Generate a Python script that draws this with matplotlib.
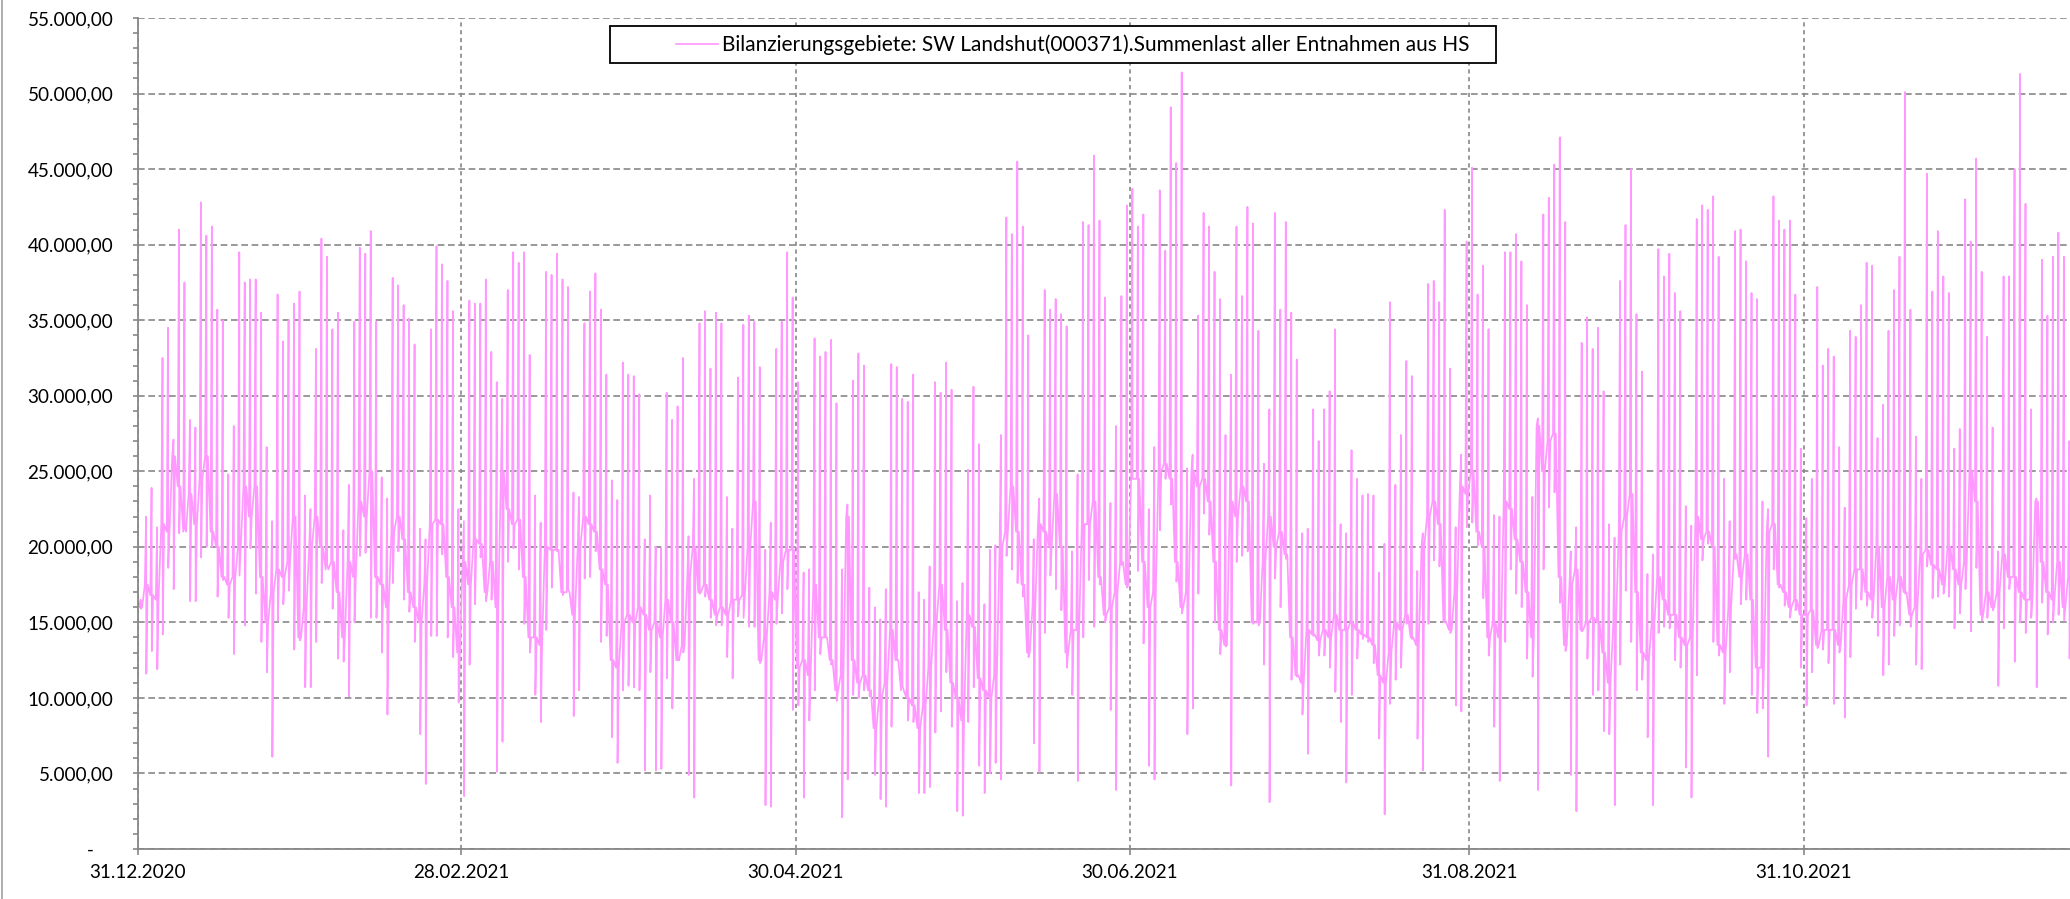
import numpy as np
import matplotlib
matplotlib.use("Agg")
import matplotlib.pyplot as plt
import matplotlib.dates as mdates
from matplotlib.ticker import MultipleLocator, FuncFormatter
from matplotlib.lines import Line2D
from matplotlib.patches import Rectangle

plt.rcParams["font.family"] = ["Lato", "DejaVu Sans"]

legend_label = "Bilanzierungsgebiete: SW Landshut(000371).Summenlast aller Entnahmen aus HS"
start_date = "2020-12-31"
tick_dates = ["2020-12-31", "2021-02-28", "2021-04-30", "2021-06-30", "2021-08-31", "2021-10-31"]

# Tageswerte in Tausend, ab 31.12.2020 (ein Wert je Tag)
tages_max = [
    16.5,
    22.0, 23.9, 21.3, 32.5, 34.5, 27.1, 41.0, 37.5, 28.4, 27.9,
    42.8, 40.6, 41.2, 35.7, 35.0, 24.8, 28.0, 39.5, 37.5, 37.7,
    37.7, 35.5, 26.6, 21.7, 36.7, 33.6, 35.0, 36.1, 36.9, 23.4,
    22.5, 33.1, 40.4, 39.2, 34.4, 35.5, 21.1, 24.1, 34.9, 39.8,
    39.4, 40.9, 34.9, 24.6, 23.2, 37.8, 37.3, 36.0, 35.1, 33.4,
    21.2, 20.5, 34.4, 39.9, 38.7, 37.6, 35.6, 22.5, 21.7, 36.3,
    36.1, 36.1, 37.7, 32.9, 30.9, 29.8, 37.0, 39.5, 38.8, 39.5,
    32.7, 23.4, 21.6, 38.2, 38.0, 39.4, 37.7, 37.2, 23.6, 23.3,
    34.8, 36.9, 38.1, 35.7, 31.4, 24.4, 23.1, 32.2,
    31.4, 31.3, 30.1, 20.5, 23.4, 20.0, 19.9, 30.2, 28.4, 29.3,
    32.5, 20.7, 24.5, 34.8, 35.6, 31.8, 35.5, 34.8, 23.3, 21.2,
    31.2, 34.7, 35.3, 34.9, 31.9, 19.8, 21.6, 33.1, 34.9, 39.5,
    36.5, 30.9, 18.3, 18.5, 33.8, 32.6, 32.9, 33.7, 29.5, 18.5,
    22.8, 31.0, 32.8, 32.0, 17.3, 16.0, 15.2, 17.2, 32.1, 31.9,
    29.8, 29.6, 31.4, 17.0, 16.5, 18.7, 30.9, 30.2, 32.2, 30.4,
    16.4, 17.6, 25.1, 30.6, 26.8, 16.2, 19.8, 20.1, 27.4, 41.8,
    40.7, 45.5, 41.2, 34.0, 20.5, 23.2, 37.0, 35.7, 36.4, 35.4,
    34.6, 19.7, 24.8, 41.5, 41.3, 45.9, 41.6, 36.5,
    22.9, 28.0, 36.6, 42.6, 43.7, 41.2, 42.0, 22.5, 26.6, 43.6,
    39.6, 49.1, 45.4, 51.4, 25.2, 26.1, 35.3, 42.1, 41.2, 38.2,
    36.4, 27.4, 31.4, 41.2, 36.6, 42.5, 41.4, 34.3, 25.5, 29.1,
    42.1, 35.7, 41.5, 35.5, 32.4, 20.9, 21.2, 29.1, 27.0, 29.1,
    30.3, 34.4, 21.5, 20.9, 26.4, 24.5, 23.4, 23.5, 23.4, 18.3,
    20.2, 36.2, 24.1, 27.4, 32.3, 31.3, 18.4, 20.9, 37.4, 37.6,
    36.2, 42.3, 31.8, 21.3, 26.1, 40.2, 45.1, 36.7, 38.6, 34.4,
    22.1, 22.0, 39.5, 39.5, 40.7, 38.9, 36.0, 23.3, 28.5, 42.0,
    43.1, 45.3, 47.1, 41.5, 19.7, 21.3, 33.5, 35.2,
    33.1, 34.5, 30.3, 21.5, 20.6, 37.6, 41.3, 45.0, 35.4, 31.6,
    18.2, 19.5, 39.7, 37.9, 39.4, 36.8, 35.6, 22.7, 21.4, 41.7,
    42.6, 42.3, 43.2, 39.2, 24.5, 21.7, 40.9, 41.0, 38.9, 36.8,
    36.4, 23.0, 22.5, 43.2, 41.6, 41.0, 41.6, 36.7, 26.5, 21.9,
    24.5, 37.2, 32.0, 33.1, 32.6, 26.6, 22.6, 34.3, 33.9, 36.0,
    38.8, 38.6, 27.2, 29.4, 34.3, 37.0, 39.2, 50.1, 35.7, 27.3,
    24.5, 44.7, 36.9, 40.9, 37.9, 36.8, 26.5, 27.8, 43.0, 40.2,
    45.7, 38.2, 33.9, 27.9, 19.7, 37.9, 37.9, 45.0, 51.3, 42.7,
    29.1, 23.2, 39.0, 35.3, 39.2, 40.8, 39.2, 27.0,
]

tages_min = [
    15.9,
    11.6, 13.1, 11.9, 14.2, 18.6, 17.2, 20.9, 21.2, 16.4, 16.4,
    19.3, 20.0, 20.0, 16.7, 17.8, 15.3, 12.9, 18.1, 14.8, 19.9,
    16.9, 13.7, 11.7, 6.1, 15.1, 16.2, 17.1, 13.2, 13.8, 10.7,
    10.7, 13.7, 17.6, 18.8, 15.9, 12.6, 12.4, 10.1, 15.0, 19.4,
    19.6, 15.3, 15.3, 13.0, 8.9, 17.6, 19.7, 16.5, 15.7, 13.7,
    7.6, 4.3, 14.1, 14.1, 19.5, 14.0, 12.7, 9.7, 3.5, 12.2,
    16.2, 19.3, 16.4, 16.5, 5.1, 7.1, 19.0, 19.9, 18.5, 14.9,
    13.0, 10.2, 8.4, 14.5, 17.3, 19.7, 16.8, 17.2, 8.8, 10.5,
    17.9, 18.0, 19.7, 13.7, 14.1, 7.4, 5.7, 10.5,
    10.8, 10.7, 10.5, 5.2, 11.7, 5.2, 5.3, 11.3, 9.3, 12.5,
    13.0, 4.9, 3.4, 16.9, 16.7, 15.3, 14.8, 14.8, 12.7, 11.3,
    15.4, 15.3, 14.7, 14.7, 12.3, 2.9, 2.8, 14.9, 15.6, 17.2,
    9.2, 9.5, 3.4, 8.5, 10.5, 12.9, 14.0, 12.2, 9.8, 2.1,
    4.6, 10.2, 10.0, 10.5, 10.1, 4.9, 3.3, 2.8, 8.1, 12.5,
    10.8, 8.5, 8.4, 3.7, 3.7, 4.1, 7.7, 9.1, 11.7, 8.1,
    2.5, 2.2, 8.4, 10.7, 5.5, 3.7, 5.0, 5.7, 4.6, 19.4,
    18.5, 17.6, 16.7, 12.7, 7.0, 5.1, 14.3, 18.1, 17.2, 15.8,
    12.0, 10.2, 4.5, 14.0, 17.8, 14.7, 17.5, 15.0,
    9.2, 3.9, 18.8, 17.3, 24.5, 18.4, 13.6, 5.5, 4.6, 21.1,
    24.5, 22.8, 17.7, 15.6, 7.6, 9.3, 16.9, 22.2, 20.8, 15.0,
    12.9, 13.4, 4.2, 19.0, 19.4, 19.7, 14.9, 14.8, 12.2, 3.1,
    17.9, 16.0, 19.2, 11.2, 11.4, 8.9, 6.3, 14.1, 12.8, 12.8,
    12.0, 10.4, 8.4, 4.4, 10.2, 12.6, 13.9, 13.7, 12.3, 7.3,
    2.3, 9.6, 11.2, 12.0, 14.9, 13.9, 7.3, 5.2, 14.9, 19.1,
    18.7, 15.0, 14.3, 9.5, 9.1, 21.3, 21.6, 20.1, 16.6, 12.8,
    8.1, 4.5, 13.7, 18.5, 16.9, 16.0, 12.6, 11.4, 3.9, 18.5,
    22.6, 23.6, 16.3, 13.1, 4.9, 2.5, 14.4, 12.6,
    10.2, 10.5, 7.8, 7.6, 2.9, 12.2, 17.1, 13.7, 10.5, 11.2,
    7.4, 2.9, 14.3, 14.7, 14.6, 12.5, 12.0, 5.4, 3.4, 11.5,
    19.1, 20.2, 13.7, 12.8, 9.6, 11.7, 19.2, 16.2, 16.5, 10.2,
    9.0, 9.3, 6.1, 18.5, 17.3, 16.1, 15.3, 15.8, 12.0, 9.5,
    11.7, 13.3, 13.2, 12.3, 9.6, 13.0, 8.7, 12.7, 15.9, 16.5,
    16.1, 15.3, 14.1, 11.5, 12.2, 14.1, 14.8, 16.9, 14.7, 12.2,
    11.9, 18.7, 16.6, 16.7, 16.9, 16.7, 14.6, 15.6, 17.2, 14.4,
    18.6, 15.1, 15.3, 15.8, 10.8, 14.6, 17.2, 12.4, 15.0, 14.3,
    15.3, 10.7, 16.3, 14.2, 15.0, 15.5, 15.1, 12.6,
]

# Grundlast zwischen den Tagesspitzen (Verbindungslinien)
tages_niveau = [
    16.0,
    17.5, 16.8, 16.5, 21.5, 21.0, 26.0, 24.0, 21.0, 23.5, 21.5,
    24.5, 26.0, 21.0, 20.0, 18.0, 17.5, 18.0, 20.0, 24.0, 22.0,
    24.0, 18.0, 15.0, 17.0, 18.5, 18.0, 19.0, 22.0, 14.0, 16.0,
    20.0, 22.0, 20.0, 18.5, 19.0, 17.0, 14.0, 19.0, 18.0, 23.0,
    22.0, 25.0, 18.0, 17.5, 16.0, 21.0, 22.0, 20.5, 17.0, 16.0,
    15.0, 17.5, 21.5, 21.8, 21.5, 18.0, 16.0, 13.0, 19.0, 17.5,
    20.5, 20.2, 17.0, 19.0, 16.0, 25.0, 22.5, 21.5, 21.8, 18.0,
    14.0, 14.0, 13.5, 20.0, 19.8, 19.8, 17.0, 17.0, 15.5, 20.0,
    22.0, 21.5, 21.0, 18.5, 17.5, 12.5, 12.0, 15.0,
    15.5, 15.0, 16.0, 15.5, 14.5, 15.0, 14.0, 16.5, 15.0, 12.5,
    13.5, 18.0, 20.0, 17.0, 17.5, 16.5, 15.5, 16.0, 15.5, 16.5,
    16.5, 16.8, 20.0, 23.0, 12.5, 14.0, 17.0, 16.5, 19.0, 19.8,
    19.8, 12.0, 12.5, 11.5, 17.5, 14.0, 14.0, 12.5, 10.5, 11.5,
    22.0, 12.5, 11.0, 11.5, 10.5, 8.0, 10.0, 11.0, 14.5, 12.5,
    10.5, 10.0, 9.5, 8.0, 9.5, 12.0, 15.0, 17.5, 14.5, 11.0,
    10.0, 8.5, 15.5, 14.7, 11.3, 10.5, 10.0, 11.5, 20.0, 21.0,
    24.0, 21.0, 17.5, 13.0, 16.0, 21.5, 21.0, 20.0, 23.5, 20.0,
    13.0, 14.5, 14.5, 21.5, 21.5, 23.0, 18.0, 15.5,
    16.0, 17.0, 19.0, 17.5, 24.5, 24.5, 19.0, 16.0, 17.0, 25.0,
    25.5, 24.5, 19.0, 16.0, 17.0, 25.0, 24.0, 24.5, 23.0, 19.0,
    14.5, 13.5, 23.0, 22.0, 24.0, 23.0, 15.0, 15.0, 19.0, 22.0,
    20.0, 21.0, 19.5, 14.0, 11.5, 11.0, 14.5, 14.2, 13.8, 14.5,
    14.0, 15.5, 14.5, 14.5, 15.0, 14.5, 14.2, 14.0, 13.5, 11.5,
    11.0, 13.0, 15.0, 14.5, 15.5, 14.0, 13.5, 20.0, 22.0, 23.0,
    21.5, 15.0, 14.5, 17.0, 24.0, 23.5, 25.0, 21.0, 20.0, 14.0,
    15.0, 14.0, 23.0, 22.5, 20.5, 19.0, 17.0, 14.0, 28.0, 25.0,
    27.0, 27.5, 18.0, 13.5, 17.5, 18.5, 14.5, 15.0,
    15.3, 15.0, 13.0, 11.0, 15.0, 21.0, 22.0, 23.5, 17.0, 13.0,
    12.5, 15.0, 18.0, 16.5, 15.5, 15.5, 14.0, 13.5, 14.0, 22.0,
    20.5, 21.0, 20.0, 13.5, 13.0, 16.0, 19.5, 18.0, 19.5, 16.5,
    12.0, 12.0, 21.0, 21.5, 17.5, 17.0, 16.0, 16.5, 15.5, 15.5,
    15.8, 13.5, 14.5, 14.5, 14.5, 13.5, 16.5, 17.5, 18.5, 18.5,
    17.0, 16.5, 20.0, 16.0, 18.0, 16.5, 18.0, 17.0, 15.5, 16.0,
    19.5, 19.8, 18.8, 18.5, 17.5, 20.0, 18.5, 17.5, 19.0, 25.0,
    23.0, 15.5, 17.0, 16.0, 17.0, 19.5, 18.0, 18.0, 17.0, 16.5,
    16.5, 23.0, 19.0, 17.0, 16.5, 19.0, 16.0, 18.0,
]


def de_format(v, pos):
    if abs(v) < 1e-9:
        return "-    "
    s = f"{v:,.2f}"
    return s.replace(",", "X").replace(".", ",").replace("X", ".")


def main():
    n = len(tages_max)
    t0 = np.datetime64(start_date + "T00:00")
    # Tagesverlauf: Grundlast morgens, Spitze, Minimum, Grundlast abends (Minuten ab Mitternacht)
    minuten = np.array([360, 690, 750, 1080])
    x = t0 + (np.arange(n)[:, None] * 1440 + minuten[None, :]).ravel().astype("timedelta64[m]")
    y = np.column_stack([tages_niveau, tages_max, tages_min, tages_niveau]).ravel() * 1000

    fig = plt.figure(figsize=(20.70, 8.99), dpi=100)
    ax = fig.add_axes([138 / 2070, 50 / 899, 1 - 138 / 2070, 831 / 899])

    ax.plot(x, y, color="#FF99FF", linewidth=1.25, label=legend_label)

    ax.set_ylim(0, 55000)
    ax.set_xlim(t0, t0 + np.timedelta64(int(352.6 * 1440), "m"))

    ax.yaxis.set_major_locator(MultipleLocator(5000))
    ax.yaxis.set_minor_locator(MultipleLocator(1000))
    ax.yaxis.set_major_formatter(FuncFormatter(de_format))
    ax.set_xticks([np.datetime64(d) for d in tick_dates])
    ax.xaxis.set_major_formatter(mdates.DateFormatter("%d.%m.%Y"))

    grau = "#878787"
    ax.grid(axis="y", which="major", color=grau, linewidth=1.2, linestyle=(0, (4, 2.2)))
    ax.grid(axis="x", which="major", color=grau, linewidth=1.2, linestyle=(0, (2.5, 2.2)))

    for side in ["top", "right"]:
        ax.spines[side].set_visible(False)
    for side in ["left", "bottom"]:
        ax.spines[side].set_color(grau)
        ax.spines[side].set_linewidth(1.3)

    ax.tick_params(axis="y", which="both", direction="out", length=3.8, width=1.2,
                   color=grau, labelsize=13.6, pad=14)
    ax.tick_params(axis="x", which="major", direction="out", length=4, width=1.2,
                   color=grau, labelsize=13.6, pad=7)

    # Legendenrahmen wie im Original (links breiter Rand)
    rahmen = Rectangle((0.2443, 0.9458), 0.4586, 0.0446, transform=ax.transAxes,
                       facecolor="white", edgecolor="black", linewidth=1.3,
                       zorder=4.5, clip_on=False)
    ax.add_patch(rahmen)
    ax.legend(loc="center left", bbox_to_anchor=(0.2785, 0.968), fontsize=15,
              frameon=False, handlelength=2.0, handletextpad=0.2, borderpad=0,
              borderaxespad=0)

    # linker Rahmen des Diagrammbereichs
    fig.add_artist(Line2D([2 / 2070, 2 / 2070], [0, 1], color="#a0a0a0", linewidth=1.2))

    fig.savefig("out.png", dpi=100)


if __name__ == "__main__":
    main()
